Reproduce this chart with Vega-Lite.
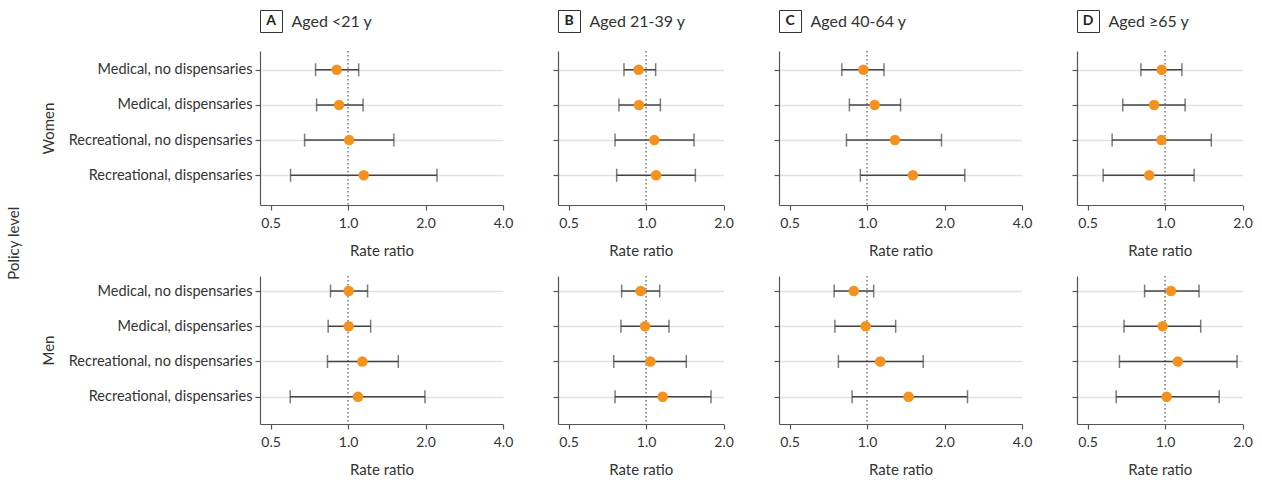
{
  "$schema": "https://vega.github.io/schema/vega-lite/v6.json",
  "background": "white",
  "padding": {"left": 6, "top": 9, "right": 5, "bottom": 2},
  "title": {"text": "Policy level", "orient": "left", "anchor": "middle", "fontSize": 15, "fontWeight": "normal", "color": "#333333", "font": "Lato", "offset": 10},
  "datasets": {
    "rr": [
      {"group": "A", "sex": "Women", "policy": "Medical, no dispensaries", "rr": 0.904, "lo": 0.748, "hi": 1.10},
      {"group": "A", "sex": "Women", "policy": "Medical, dispensaries", "rr": 0.923, "lo": 0.755, "hi": 1.144},
      {"group": "A", "sex": "Women", "policy": "Recreational, no dispensaries", "rr": 1.01, "lo": 0.678, "hi": 1.507},
      {"group": "A", "sex": "Women", "policy": "Recreational, dispensaries", "rr": 1.151, "lo": 0.598, "hi": 2.216},
      {"group": "A", "sex": "Men", "policy": "Medical, no dispensaries", "rr": 1.006, "lo": 0.855, "hi": 1.191},
      {"group": "A", "sex": "Men", "policy": "Medical, dispensaries", "rr": 1.006, "lo": 0.837, "hi": 1.224},
      {"group": "A", "sex": "Men", "policy": "Recreational, no dispensaries", "rr": 1.137, "lo": 0.832, "hi": 1.568},
      {"group": "A", "sex": "Men", "policy": "Recreational, dispensaries", "rr": 1.093, "lo": 0.596, "hi": 1.99},
      {"group": "B", "sex": "Women", "policy": "Medical, no dispensaries", "rr": 0.936, "lo": 0.821, "hi": 1.09},
      {"group": "B", "sex": "Women", "policy": "Medical, dispensaries", "rr": 0.939, "lo": 0.785, "hi": 1.137},
      {"group": "B", "sex": "Women", "policy": "Recreational, no dispensaries", "rr": 1.077, "lo": 0.758, "hi": 1.536},
      {"group": "B", "sex": "Women", "policy": "Recreational, dispensaries", "rr": 1.094, "lo": 0.769, "hi": 1.555},
      {"group": "B", "sex": "Men", "policy": "Medical, no dispensaries", "rr": 0.953, "lo": 0.804, "hi": 1.13},
      {"group": "B", "sex": "Men", "policy": "Medical, dispensaries", "rr": 0.991, "lo": 0.799, "hi": 1.228},
      {"group": "B", "sex": "Men", "policy": "Recreational, no dispensaries", "rr": 1.04, "lo": 0.749, "hi": 1.434},
      {"group": "B", "sex": "Men", "policy": "Recreational, dispensaries", "rr": 1.161, "lo": 0.758, "hi": 1.789},
      {"group": "C", "sex": "Women", "policy": "Medical, no dispensaries", "rr": 0.968, "lo": 0.798, "hi": 1.164},
      {"group": "C", "sex": "Women", "policy": "Medical, dispensaries", "rr": 1.071, "lo": 0.854, "hi": 1.35},
      {"group": "C", "sex": "Women", "policy": "Recreational, no dispensaries", "rr": 1.284, "lo": 0.832, "hi": 1.947},
      {"group": "C", "sex": "Women", "policy": "Recreational, dispensaries", "rr": 1.507, "lo": 0.942, "hi": 2.398},
      {"group": "C", "sex": "Men", "policy": "Medical, no dispensaries", "rr": 0.888, "lo": 0.745, "hi": 1.061},
      {"group": "C", "sex": "Men", "policy": "Medical, dispensaries", "rr": 0.988, "lo": 0.75, "hi": 1.292},
      {"group": "C", "sex": "Men", "policy": "Recreational, no dispensaries", "rr": 1.126, "lo": 0.774, "hi": 1.653},
      {"group": "C", "sex": "Men", "policy": "Recreational, dispensaries", "rr": 1.45, "lo": 0.875, "hi": 2.456},
      {"group": "D", "sex": "Women", "policy": "Medical, no dispensaries", "rr": 0.971, "lo": 0.806, "hi": 1.163},
      {"group": "D", "sex": "Women", "policy": "Medical, dispensaries", "rr": 0.907, "lo": 0.685, "hi": 1.197},
      {"group": "D", "sex": "Women", "policy": "Recreational, no dispensaries", "rr": 0.968, "lo": 0.623, "hi": 1.513},
      {"group": "D", "sex": "Women", "policy": "Recreational, dispensaries", "rr": 0.868, "lo": 0.575, "hi": 1.297},
      {"group": "D", "sex": "Men", "policy": "Medical, no dispensaries", "rr": 1.055, "lo": 0.833, "hi": 1.356},
      {"group": "D", "sex": "Men", "policy": "Medical, dispensaries", "rr": 0.979, "lo": 0.693, "hi": 1.376},
      {"group": "D", "sex": "Men", "policy": "Recreational, no dispensaries", "rr": 1.122, "lo": 0.665, "hi": 1.905},
      {"group": "D", "sex": "Men", "policy": "Recreational, dispensaries", "rr": 1.015, "lo": 0.646, "hi": 1.624}
    ]
  },
  "spacing": 39,
  "hconcat": [
    {
      "spacing": 17,
      "vconcat": [
        {
          "width": 22, "height": 22,
          "view": {"stroke": "#333333", "strokeWidth": 1},
          "data": {"values": [{"letter": "A", "label": "Aged <21 y"}]},
          "title": {"text": "W", "orient": "left", "fontSize": 1, "color": "transparent", "offset": 227},
          "mark": {"type": "text", "fontWeight": "bold", "fontSize": 14, "color": "#222222"},
          "encoding": {
            "text": {"field": "letter"},
            "y": {"field": "label", "type": "nominal", "axis": {"orient": "right", "title": null, "ticks": false, "tickSize": 0, "domain": false, "grid": false, "labelPadding": 9, "labelFontSize": 16, "labelAlign": "left"}}
          }
        },
        {
          "width": 243, "height": 154,
          "data": {"name": "rr"},
          "transform": [{"filter": "datum.sex === 'Women' && datum.group === 'A'"}],
          "layer": [
            {"transform": [{"aggregate": [{"op": "count", "as": "n"}]}],
             "mark": {"type": "rule", "strokeDash": [1.5, 2.5], "color": "#333333", "strokeWidth": 1},
             "encoding": {"x": {"datum": 1, "type": "quantitative", "title": "Rate ratio", "scale": {"type": "log", "domain": [0.455, 4], "nice": false}}}},
            {"mark": {"type": "errorbar", "ticks": {"size": 13}, "thickness": 1.5, "color": "#444444"},
             "encoding": {
               "x": {"field": "lo", "type": "quantitative", "title": "Rate ratio", "scale": {"type": "log", "domain": [0.455, 4], "nice": false}, "axis": {"values": [0.5, 1, 2, 4]}},
               "x2": {"field": "hi"},
               "y": {"field": "policy", "type": "nominal", "sort": ["Medical, no dispensaries", "Medical, dispensaries", "Recreational, no dispensaries", "Recreational, dispensaries"], "scale": {"type": "point", "padding": 0.69, "align": 0.387}, "axis": {"title": "Women"}}}},
            {"mark": {"type": "circle", "size": 110, "color": "#F5921E", "opacity": 1},
             "encoding": {
               "x": {"field": "rr", "type": "quantitative", "title": "Rate ratio"},
               "y": {"field": "policy", "type": "nominal", "sort": ["Medical, no dispensaries", "Medical, dispensaries", "Recreational, no dispensaries", "Recreational, dispensaries"]}}}
          ]
        },
        {
          "width": 243, "height": 148,
          "data": {"name": "rr"},
          "transform": [{"filter": "datum.sex === 'Men' && datum.group === 'A'"}],
          "layer": [
            {"transform": [{"aggregate": [{"op": "count", "as": "n"}]}],
             "mark": {"type": "rule", "strokeDash": [1.5, 2.5], "color": "#333333", "strokeWidth": 1},
             "encoding": {"x": {"datum": 1, "type": "quantitative", "title": "Rate ratio", "scale": {"type": "log", "domain": [0.455, 4], "nice": false}}}},
            {"mark": {"type": "errorbar", "ticks": {"size": 13}, "thickness": 1.5, "color": "#444444"},
             "encoding": {
               "x": {"field": "lo", "type": "quantitative", "title": "Rate ratio", "scale": {"type": "log", "domain": [0.455, 4], "nice": false}, "axis": {"values": [0.5, 1, 2, 4]}},
               "x2": {"field": "hi"},
               "y": {"field": "policy", "type": "nominal", "sort": ["Medical, no dispensaries", "Medical, dispensaries", "Recreational, no dispensaries", "Recreational, dispensaries"], "scale": {"type": "point", "padding": 0.6, "align": 0.355}, "axis": {"title": "Men"}}}},
            {"mark": {"type": "circle", "size": 110, "color": "#F5921E", "opacity": 1},
             "encoding": {
               "x": {"field": "rr", "type": "quantitative", "title": "Rate ratio"},
               "y": {"field": "policy", "type": "nominal", "sort": ["Medical, no dispensaries", "Medical, dispensaries", "Recreational, no dispensaries", "Recreational, dispensaries"]}}}
          ]
        }
      ]
    },
    {
      "spacing": 17,
      "vconcat": [
        {
          "width": 22, "height": 22,
          "view": {"stroke": "#333333", "strokeWidth": 1},
          "data": {"values": [{"letter": "B", "label": "Aged 21-39 y"}]},
          "mark": {"type": "text", "fontWeight": "bold", "fontSize": 14, "color": "#222222"},
          "encoding": {
            "text": {"field": "letter"},
            "y": {"field": "label", "type": "nominal", "axis": {"orient": "right", "title": null, "ticks": false, "tickSize": 0, "domain": false, "grid": false, "labelPadding": 9, "labelFontSize": 16, "labelAlign": "left"}}
          }
        },
        {
          "width": 165.5, "height": 154,
          "data": {"name": "rr"},
          "transform": [{"filter": "datum.sex === 'Women' && datum.group === 'B'"}],
          "layer": [
            {"transform": [{"aggregate": [{"op": "count", "as": "n"}]}],
             "mark": {"type": "rule", "strokeDash": [1.5, 2.5], "color": "#333333", "strokeWidth": 1},
             "encoding": {"x": {"datum": 1, "type": "quantitative", "title": "Rate ratio", "scale": {"type": "log", "domain": [0.455, 2], "nice": false}}}},
            {"mark": {"type": "errorbar", "ticks": {"size": 13}, "thickness": 1.5, "color": "#444444"},
             "encoding": {
               "x": {"field": "lo", "type": "quantitative", "title": "Rate ratio", "scale": {"type": "log", "domain": [0.455, 2], "nice": false}, "axis": {"values": [0.5, 1, 2]}},
               "x2": {"field": "hi"},
               "y": {"field": "policy", "type": "nominal", "sort": ["Medical, no dispensaries", "Medical, dispensaries", "Recreational, no dispensaries", "Recreational, dispensaries"], "scale": {"type": "point", "padding": 0.69, "align": 0.387}, "axis": {"labels": false, "title": null}}}},
            {"mark": {"type": "circle", "size": 110, "color": "#F5921E", "opacity": 1},
             "encoding": {
               "x": {"field": "rr", "type": "quantitative", "title": "Rate ratio"},
               "y": {"field": "policy", "type": "nominal", "sort": ["Medical, no dispensaries", "Medical, dispensaries", "Recreational, no dispensaries", "Recreational, dispensaries"]}}}
          ]
        },
        {
          "width": 165.5, "height": 148,
          "data": {"name": "rr"},
          "transform": [{"filter": "datum.sex === 'Men' && datum.group === 'B'"}],
          "layer": [
            {"transform": [{"aggregate": [{"op": "count", "as": "n"}]}],
             "mark": {"type": "rule", "strokeDash": [1.5, 2.5], "color": "#333333", "strokeWidth": 1},
             "encoding": {"x": {"datum": 1, "type": "quantitative", "title": "Rate ratio", "scale": {"type": "log", "domain": [0.455, 2], "nice": false}}}},
            {"mark": {"type": "errorbar", "ticks": {"size": 13}, "thickness": 1.5, "color": "#444444"},
             "encoding": {
               "x": {"field": "lo", "type": "quantitative", "title": "Rate ratio", "scale": {"type": "log", "domain": [0.455, 2], "nice": false}, "axis": {"values": [0.5, 1, 2]}},
               "x2": {"field": "hi"},
               "y": {"field": "policy", "type": "nominal", "sort": ["Medical, no dispensaries", "Medical, dispensaries", "Recreational, no dispensaries", "Recreational, dispensaries"], "scale": {"type": "point", "padding": 0.6, "align": 0.355}, "axis": {"labels": false, "title": null}}}},
            {"mark": {"type": "circle", "size": 110, "color": "#F5921E", "opacity": 1},
             "encoding": {
               "x": {"field": "rr", "type": "quantitative", "title": "Rate ratio"},
               "y": {"field": "policy", "type": "nominal", "sort": ["Medical, no dispensaries", "Medical, dispensaries", "Recreational, no dispensaries", "Recreational, dispensaries"]}}}
          ]
        }
      ]
    },
    {
      "spacing": 17,
      "vconcat": [
        {
          "width": 22, "height": 22,
          "view": {"stroke": "#333333", "strokeWidth": 1},
          "data": {"values": [{"letter": "C", "label": "Aged 40-64 y"}]},
          "mark": {"type": "text", "fontWeight": "bold", "fontSize": 14, "color": "#222222"},
          "encoding": {
            "text": {"field": "letter"},
            "y": {"field": "label", "type": "nominal", "axis": {"orient": "right", "title": null, "ticks": false, "tickSize": 0, "domain": false, "grid": false, "labelPadding": 9, "labelFontSize": 16, "labelAlign": "left"}}
          }
        },
        {
          "width": 243, "height": 154,
          "data": {"name": "rr"},
          "transform": [{"filter": "datum.sex === 'Women' && datum.group === 'C'"}],
          "layer": [
            {"transform": [{"aggregate": [{"op": "count", "as": "n"}]}],
             "mark": {"type": "rule", "strokeDash": [1.5, 2.5], "color": "#333333", "strokeWidth": 1},
             "encoding": {"x": {"datum": 1, "type": "quantitative", "title": "Rate ratio", "scale": {"type": "log", "domain": [0.455, 4], "nice": false}}}},
            {"mark": {"type": "errorbar", "ticks": {"size": 13}, "thickness": 1.5, "color": "#444444"},
             "encoding": {
               "x": {"field": "lo", "type": "quantitative", "title": "Rate ratio", "scale": {"type": "log", "domain": [0.455, 4], "nice": false}, "axis": {"values": [0.5, 1, 2, 4]}},
               "x2": {"field": "hi"},
               "y": {"field": "policy", "type": "nominal", "sort": ["Medical, no dispensaries", "Medical, dispensaries", "Recreational, no dispensaries", "Recreational, dispensaries"], "scale": {"type": "point", "padding": 0.69, "align": 0.387}, "axis": {"labels": false, "title": null}}}},
            {"mark": {"type": "circle", "size": 110, "color": "#F5921E", "opacity": 1},
             "encoding": {
               "x": {"field": "rr", "type": "quantitative", "title": "Rate ratio"},
               "y": {"field": "policy", "type": "nominal", "sort": ["Medical, no dispensaries", "Medical, dispensaries", "Recreational, no dispensaries", "Recreational, dispensaries"]}}}
          ]
        },
        {
          "width": 243, "height": 148,
          "data": {"name": "rr"},
          "transform": [{"filter": "datum.sex === 'Men' && datum.group === 'C'"}],
          "layer": [
            {"transform": [{"aggregate": [{"op": "count", "as": "n"}]}],
             "mark": {"type": "rule", "strokeDash": [1.5, 2.5], "color": "#333333", "strokeWidth": 1},
             "encoding": {"x": {"datum": 1, "type": "quantitative", "title": "Rate ratio", "scale": {"type": "log", "domain": [0.455, 4], "nice": false}}}},
            {"mark": {"type": "errorbar", "ticks": {"size": 13}, "thickness": 1.5, "color": "#444444"},
             "encoding": {
               "x": {"field": "lo", "type": "quantitative", "title": "Rate ratio", "scale": {"type": "log", "domain": [0.455, 4], "nice": false}, "axis": {"values": [0.5, 1, 2, 4]}},
               "x2": {"field": "hi"},
               "y": {"field": "policy", "type": "nominal", "sort": ["Medical, no dispensaries", "Medical, dispensaries", "Recreational, no dispensaries", "Recreational, dispensaries"], "scale": {"type": "point", "padding": 0.6, "align": 0.355}, "axis": {"labels": false, "title": null}}}},
            {"mark": {"type": "circle", "size": 110, "color": "#F5921E", "opacity": 1},
             "encoding": {
               "x": {"field": "rr", "type": "quantitative", "title": "Rate ratio"},
               "y": {"field": "policy", "type": "nominal", "sort": ["Medical, no dispensaries", "Medical, dispensaries", "Recreational, no dispensaries", "Recreational, dispensaries"]}}}
          ]
        }
      ]
    },
    {
      "spacing": 17,
      "vconcat": [
        {
          "width": 22, "height": 22,
          "view": {"stroke": "#333333", "strokeWidth": 1},
          "data": {"values": [{"letter": "D", "label": "Aged ≥65 y"}]},
          "mark": {"type": "text", "fontWeight": "bold", "fontSize": 14, "color": "#222222"},
          "encoding": {
            "text": {"field": "letter"},
            "y": {"field": "label", "type": "nominal", "axis": {"orient": "right", "title": null, "ticks": false, "tickSize": 0, "domain": false, "grid": false, "labelPadding": 9, "labelFontSize": 16, "labelAlign": "left"}}
          }
        },
        {
          "width": 165.5, "height": 154,
          "data": {"name": "rr"},
          "transform": [{"filter": "datum.sex === 'Women' && datum.group === 'D'"}],
          "layer": [
            {"transform": [{"aggregate": [{"op": "count", "as": "n"}]}],
             "mark": {"type": "rule", "strokeDash": [1.5, 2.5], "color": "#333333", "strokeWidth": 1},
             "encoding": {"x": {"datum": 1, "type": "quantitative", "title": "Rate ratio", "scale": {"type": "log", "domain": [0.455, 2], "nice": false}}}},
            {"mark": {"type": "errorbar", "ticks": {"size": 13}, "thickness": 1.5, "color": "#444444"},
             "encoding": {
               "x": {"field": "lo", "type": "quantitative", "title": "Rate ratio", "scale": {"type": "log", "domain": [0.455, 2], "nice": false}, "axis": {"values": [0.5, 1, 2]}},
               "x2": {"field": "hi"},
               "y": {"field": "policy", "type": "nominal", "sort": ["Medical, no dispensaries", "Medical, dispensaries", "Recreational, no dispensaries", "Recreational, dispensaries"], "scale": {"type": "point", "padding": 0.69, "align": 0.387}, "axis": {"labels": false, "title": null}}}},
            {"mark": {"type": "circle", "size": 110, "color": "#F5921E", "opacity": 1},
             "encoding": {
               "x": {"field": "rr", "type": "quantitative", "title": "Rate ratio"},
               "y": {"field": "policy", "type": "nominal", "sort": ["Medical, no dispensaries", "Medical, dispensaries", "Recreational, no dispensaries", "Recreational, dispensaries"]}}}
          ]
        },
        {
          "width": 165.5, "height": 148,
          "data": {"name": "rr"},
          "transform": [{"filter": "datum.sex === 'Men' && datum.group === 'D'"}],
          "layer": [
            {"transform": [{"aggregate": [{"op": "count", "as": "n"}]}],
             "mark": {"type": "rule", "strokeDash": [1.5, 2.5], "color": "#333333", "strokeWidth": 1},
             "encoding": {"x": {"datum": 1, "type": "quantitative", "title": "Rate ratio", "scale": {"type": "log", "domain": [0.455, 2], "nice": false}}}},
            {"mark": {"type": "errorbar", "ticks": {"size": 13}, "thickness": 1.5, "color": "#444444"},
             "encoding": {
               "x": {"field": "lo", "type": "quantitative", "title": "Rate ratio", "scale": {"type": "log", "domain": [0.455, 2], "nice": false}, "axis": {"values": [0.5, 1, 2]}},
               "x2": {"field": "hi"},
               "y": {"field": "policy", "type": "nominal", "sort": ["Medical, no dispensaries", "Medical, dispensaries", "Recreational, no dispensaries", "Recreational, dispensaries"], "scale": {"type": "point", "padding": 0.6, "align": 0.355}, "axis": {"labels": false, "title": null}}}},
            {"mark": {"type": "circle", "size": 110, "color": "#F5921E", "opacity": 1},
             "encoding": {
               "x": {"field": "rr", "type": "quantitative", "title": "Rate ratio"},
               "y": {"field": "policy", "type": "nominal", "sort": ["Medical, no dispensaries", "Medical, dispensaries", "Recreational, no dispensaries", "Recreational, dispensaries"]}}}
          ]
        }
      ]
    }
  ],
  "config": {
    "font": "Lato",
    "view": {"stroke": null},
    "text": {"font": "Lato"},
    "axis": {
      "labelFont": "Lato", "titleFont": "Lato",
      "labelFontSize": 14, "titleFontSize": 15, "titleFontWeight": "normal",
      "labelColor": "#333333", "titleColor": "#333333",
      "domainColor": "#555555", "domainWidth": 1.2, "tickColor": "#555555", "tickWidth": 1.2, "tickSize": 5,
      "gridColor": "#e2e2e2", "gridWidth": 1.5
    },
    "axisX": {"labelPadding": 6, "titlePadding": 13, "labelFlush": false, "labelOverlap": false, "grid": false, "format": ".1f"},
    "axisY": {"labelPadding": 3, "titlePadding": 12, "grid": true, "labelFontSize": 14.5, "labelLimit": 0}
  }
}
